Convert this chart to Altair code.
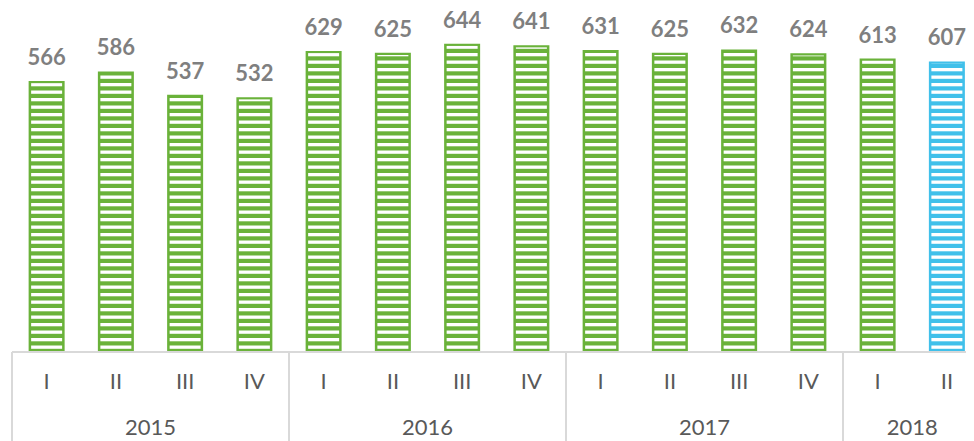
import altair as alt
import pandas as pd

years = ["2015"] * 4 + ["2016"] * 4 + ["2017"] * 4 + ["2018"] * 2
quarters = ["I", "II", "III", "IV"] * 3 + ["I", "II"]
values = [566, 586, 537, 532, 629, 625, 644, 641, 631, 625, 632, 624, 613, 607]
kinds = ["actual"] * 13 + ["estimate"]

GREEN = "#6AB23A"
BLUE = "#40C0EA"
AXIS_GRAY = "#D9D9D9"

df = pd.DataFrame({
    "idx": list(range(len(values))),
    "year": years,
    "q": quarters,
    "value": values,
    "kind": kinds,
})

# pixel geometry
PLOT_W = 954
PLOT_H = 344
Y_MAX = 721.0
PX_PER_UNIT = PLOT_H / Y_MAX
SLOT = 69.25
N = len(values)
X_MAX = -0.5 + PLOT_W / SLOT  # last slot is cut by the right edge

# striped pattern (absolute, anchored to baseline, clipped at bar top)
period_px, off_px, white_px = 7.5, 3.2, 3.3
rows = []
for i, v in enumerate(values):
    top = v - 1.2 / PX_PER_UNIT
    k = 0
    while True:
        lo = (off_px + k * period_px) / PX_PER_UNIT
        hi = (off_px + white_px + k * period_px) / PX_PER_UNIT
        if lo >= top:
            break
        rows.append({"idx": i, "lo": lo, "hi": min(hi, top)})
        k += 1
stripes = pd.DataFrame(rows)

# year groups
yr_rows = []
for y in dict.fromkeys(years):
    ids = [i for i, yy in enumerate(years) if yy == y]
    yr_rows.append({"year": y, "center": (ids[0] + ids[-1]) / 2,
                    "start": ids[0] - 0.5})
yrs = pd.DataFrame(yr_rows)

xscale = alt.Scale(domain=[-0.5, X_MAX], nice=False, zero=False, padding=0)
yscale = alt.Scale(domain=[0, Y_MAX], nice=False, padding=0)
cscale = alt.Scale(domain=["actual", "estimate"], range=[GREEN, BLUE])

base = alt.Chart(df)

bars = base.mark_bar(orient="vertical", size=34, strokeWidth=2).encode(
    x=alt.X("idx:Q", scale=xscale, axis=None),
    y=alt.Y("value:Q", scale=yscale, axis=None, stack=None),
    color=alt.Color("kind:N", scale=cscale, legend=None),
    stroke=alt.Stroke("kind:N", scale=cscale, legend=None),
)

stripe_layer = alt.Chart(stripes).mark_bar(orient="vertical", size=31, color="white").encode(
    x=alt.X("idx:Q", scale=xscale, axis=None),
    y=alt.Y("lo:Q", scale=yscale, axis=None, stack=None),
    y2="hi:Q",
)

labels = base.mark_text(font="Lato", fontWeight="bold", fontSize=22, color="#7F7F7F",
                        baseline="alphabetic", dy=-17).encode(
    x=alt.X("idx:Q", scale=xscale, axis=None),
    y=alt.Y("value:Q", scale=yscale, axis=None),
    text="value:Q",
)

axis_line = alt.Chart(yrs).mark_rule(color=AXIS_GRAY, strokeWidth=1.5).encode(
    x=alt.value(0),
    x2=alt.value(PLOT_W),
    y=alt.datum(0, scale=yscale),
)

seps = alt.Chart(yrs).mark_rule(color=AXIS_GRAY, strokeWidth=2).encode(
    x=alt.X("start:Q", scale=xscale, axis=None),
    y=alt.datum(0, scale=yscale),
    y2=alt.value(PLOT_H + 95),
)

q_labels = base.mark_text(font="Lato", fontSize=22, color="#595959",
                          baseline="middle").encode(
    x=alt.X("idx:Q", scale=xscale, axis=None),
    y=alt.value(PLOT_H + 30),
    text="q:N",
)

y_labels = alt.Chart(yrs).mark_text(font="Lato", fontSize=22, color="#595959",
                                    baseline="middle").encode(
    x=alt.X("center:Q", scale=xscale, axis=None),
    y=alt.value(PLOT_H + 76),
    text="year:N",
)

chart = alt.layer(bars, stripe_layer, labels, axis_line, seps, q_labels, y_labels).properties(
    width=PLOT_W,
    height=PLOT_H,
    autosize=alt.AutoSizeParams(type="none"),
    padding={"left": 4, "top": 0, "right": 0, "bottom": 89},
    background="white",
).configure_view(stroke=None)

chart.save("out.html", embed_options={"renderer": "svg", "actions": False})
